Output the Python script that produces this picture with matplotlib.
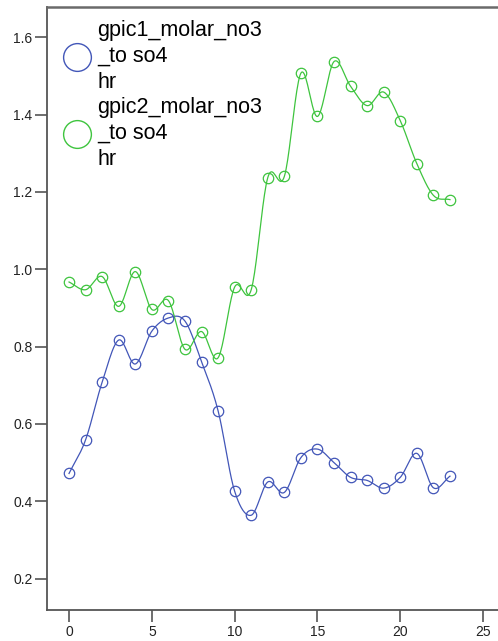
import numpy as np
import matplotlib
matplotlib.use("Agg")
import matplotlib.pyplot as plt
from matplotlib.lines import Line2D

plt.rcParams['font.family'] = ['Liberation Sans', 'DejaVu Sans']

# hourly molar NO3 / SO4 ratio for the two sites
hours = list(range(24))
gpic1_ratio = [0.472, 0.559, 0.708, 0.817, 0.755, 0.840, 0.874, 0.866, 0.761, 0.634,
               0.426, 0.364, 0.450, 0.423, 0.513, 0.535, 0.500, 0.462, 0.454, 0.434,
               0.462, 0.524, 0.435, 0.465]
gpic2_ratio = [0.967, 0.947, 0.981, 0.904, 0.994, 0.896, 0.919, 0.793, 0.839, 0.771,
               0.954, 0.947, 1.237, 1.240, 1.507, 1.395, 1.537, 1.473, 1.423, 1.458,
               1.384, 1.273, 1.191, 1.180]
series_labels = ["gpic1_molar_no3\n_to so4\nhr", "gpic2_molar_no3\n_to so4\nhr"]
series_colors = ["#4256b8", "#3ec43e"]

xticks = [0, 5, 10, 15, 20, 25]
yticks = [0.2, 0.4, 0.6, 0.8, 1.0, 1.2, 1.4, 1.6]


def catmull_rom(x, y, steps=20):
    """Smooth curve through every point (uniform Catmull-Rom)."""
    x = np.asarray(x, float)
    y = np.asarray(y, float)
    px = np.concatenate([[2 * x[0] - x[1]], x, [2 * x[-1] - x[-2]]])
    py = np.concatenate([[2 * y[0] - y[1]], y, [2 * y[-1] - y[-2]]])
    t = np.linspace(0, 1, steps, endpoint=False)
    t2, t3 = t * t, t * t * t
    xs, ys = [], []
    for i in range(1, len(px) - 2):
        for p, out in ((px, xs), (py, ys)):
            p0, p1, p2, p3 = p[i - 1], p[i], p[i + 1], p[i + 2]
            out.append(0.5 * (2 * p1 + (-p0 + p2) * t
                              + (2 * p0 - 5 * p1 + 4 * p2 - p3) * t2
                              + (-p0 + 3 * p1 - 3 * p2 + p3) * t3))
    xs.append([x[-1]])
    ys.append([y[-1]])
    return np.concatenate(xs), np.concatenate(ys)


fig = plt.figure(figsize=(4.98, 6.41), dpi=100)
ax = fig.add_axes([47 / 498, 31 / 641, 451 / 498, 603 / 641])

for vals, col in zip([gpic1_ratio, gpic2_ratio], series_colors):
    sx, sy = catmull_rom(hours, vals)
    ax.plot(sx, sy, color=col, lw=0.9, zorder=2)
    ax.plot(hours, vals, ls='none', marker='o', ms=7.5, mfc='none', mec=col, mew=0.9, zorder=3)

ax.set_xlim(-1.33, 25.9)
ax.set_ylim(0.119, 1.678)
ax.set_xticks(xticks)
ax.set_yticks(yticks)
ax.set_yticklabels([f"{v:.1f}" for v in yticks])

for side in ("left", "bottom"):
    ax.spines[side].set_color("#555555")
    ax.spines[side].set_linewidth(1.3)
ax.spines["top"].set_color("#6a6a6a")
ax.spines["top"].set_linewidth(1.8)
ax.spines["right"].set_visible(False)
ax.tick_params(direction='out', length=8.5, width=1.2, color="#555555",
               labelsize=10, labelcolor="#222222", pad=2)

handles = [Line2D([], [], ls='none', marker='o', ms=20, mfc='none', mec=c, mew=1.0)
           for c in series_colors]
leg = ax.legend(handles, series_labels, loc='upper left',
                bbox_to_anchor=(62 / 498, 1 - 20 / 641), bbox_transform=fig.transFigure,
                frameon=False, fontsize=15.5, handlelength=1.35, handletextpad=0.3,
                borderpad=0, borderaxespad=0, labelspacing=0.2)
for t in leg.get_texts():
    t.set_linespacing(1.3)

fig.savefig("out.png", dpi=100)
